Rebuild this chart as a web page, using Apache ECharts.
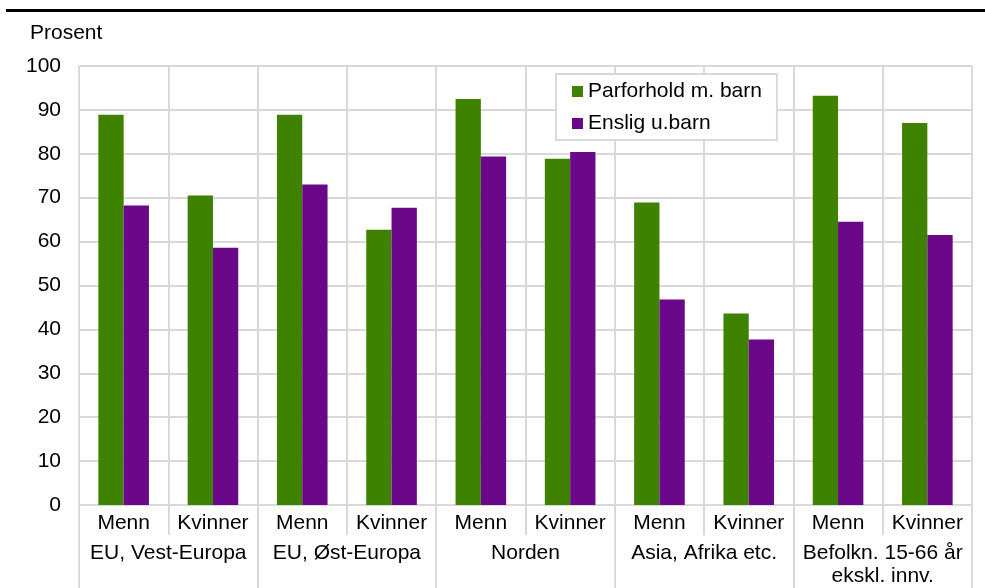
<!DOCTYPE html>
<html>
<head>
<meta charset="utf-8">
<script src="https://cdn.jsdelivr.net/npm/echarts@6/dist/echarts.min.js"></script>
<style>html,body{margin:0;padding:0;background:#fff}#c{width:985px;height:588px}</style>
</head>
<body>
<div id="c"></div>
<script>
const subCategories = ['Menn','Kvinner','Menn','Kvinner','Menn','Kvinner','Menn','Kvinner','Menn','Kvinner'];
const groups = ['EU, Vest-Europa','EU, Øst-Europa','Norden','Asia, Afrika etc.','Befolkn. 15-66 år\nekskl. innv.'];
const seriesNames = ['Parforhold m. barn','Enslig u.barn'];
const parforhold = [88.9, 70.5, 88.9, 62.7, 92.5, 78.9, 68.9, 43.6, 93.2, 87.0];
const enslig = [68.2, 58.6, 73.0, 67.7, 79.4, 80.4, 46.8, 37.7, 64.5, 61.5];
const yTicks = {min: 0, max: 100, interval: 10};

const FONT = '"Liberation Sans", Arial, sans-serif';
const FS = 21;
const GRID = '#d9d9d9';

const chart = echarts.init(document.getElementById('c'), null, {renderer: 'canvas'});
chart.setOption({
  animation: false,
  textStyle: {fontFamily: FONT},
  title: {
    text: 'Prosent', left: 30, top: 23, padding: 0,
    textStyle: {fontFamily: FONT, fontSize: FS, fontWeight: 'normal', color: '#000'}
  },
  graphic: [{
    type: 'line', shape: {x1: 6, y1: 10.5, x2: 985, y2: 10.5},
    style: {stroke: '#000', lineWidth: 3}, z: 100
  }],
  legend: {
    orient: 'vertical', left: 556, top: 74,
    data: seriesNames,
    icon: 'rect', itemWidth: 11, itemHeight: 11, itemGap: 11,
    padding: [7, 15, 6, 16],
    backgroundColor: '#fff', borderColor: GRID, borderWidth: 2,
    textStyle: {fontFamily: FONT, fontSize: FS, color: '#000'}
  },
  grid: {left: 79, right: 13, top: 66, bottom: 82.5, containLabel: false},
  xAxis: [{
    type: 'category', data: subCategories, position: 'bottom',
    axisLine: {show: true, lineStyle: {color: GRID, width: 2}},
    axisTick: {show: true, length: 30, lineStyle: {color: GRID, width: 2}},
    axisLabel: {interval: 0, margin: 8, fontFamily: FONT, fontSize: FS, color: '#000'},
    splitLine: {show: true, interval: 0, lineStyle: {color: GRID, width: 2}}
  }, {
    type: 'category', data: groups, position: 'bottom', offset: 0,
    axisLine: {show: false},
    axisTick: {show: true, length: 83, lineStyle: {color: GRID, width: 2}},
    axisLabel: {interval: 0, margin: 36, lineHeight: 23.5, fontFamily: FONT, fontSize: FS, color: '#000'},
    splitLine: {show: false}
  }],
  yAxis: {
    type: 'value', min: yTicks.min, max: yTicks.max, interval: yTicks.interval,
    axisLine: {show: true, lineStyle: {color: GRID, width: 2}},
    axisTick: {show: false},
    axisLabel: {margin: 18, fontFamily: FONT, fontSize: FS, color: '#000'},
    splitLine: {show: true, lineStyle: {color: GRID, width: 2}}
  },
  series: [{
    name: seriesNames[0], type: 'bar', xAxisIndex: 0, data: parforhold,
    barWidth: 25.3, barGap: '0%', itemStyle: {color: '#3f8200'}
  }, {
    name: seriesNames[1], type: 'bar', xAxisIndex: 0, data: enslig,
    barWidth: 25.3, barGap: '0%', itemStyle: {color: '#6a0889'}
  }]
});
</script>
</body>
</html>
